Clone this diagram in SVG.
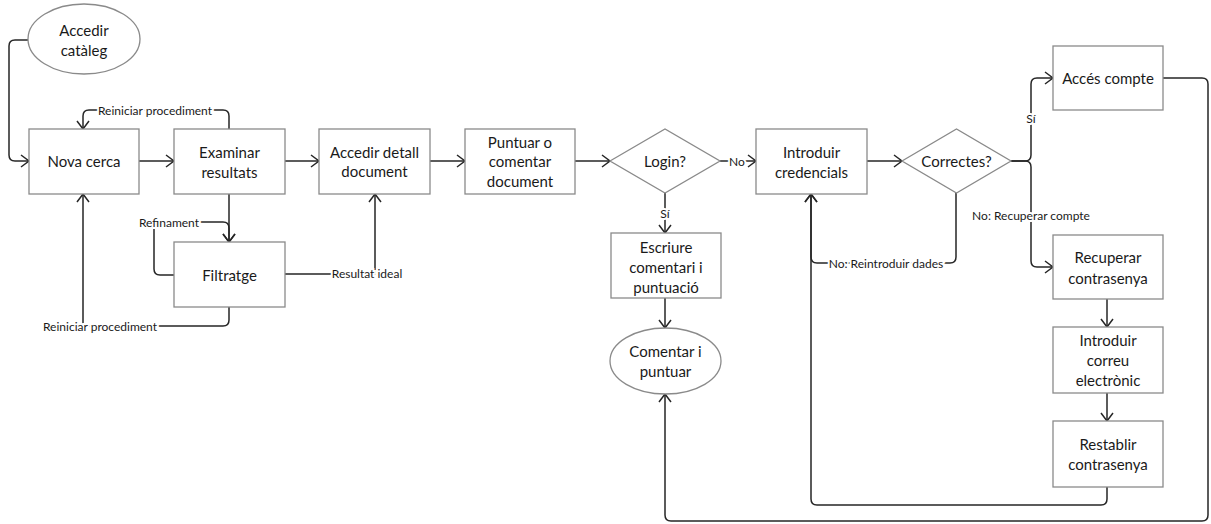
<svg xmlns="http://www.w3.org/2000/svg" width="1211" height="524" viewBox="0 0 1211 524">
<style>
.n{fill:#fff;stroke:#8a8a8a;stroke-width:1.3}
.t{font-family:Lato,"Open Sans",sans-serif;font-size:15px;fill:#1a1a1a;text-anchor:middle;dominant-baseline:central}
.c{fill:none;stroke:#262626;stroke-width:1.5}
.l{font-family:Lato,"Open Sans",sans-serif;font-size:12px;fill:#1a1a1a;text-anchor:middle;dominant-baseline:central;paint-order:stroke;stroke:#fff;stroke-width:4px}
</style>
<defs>
<marker id="a" markerUnits="userSpaceOnUse" markerWidth="12" markerHeight="14" refX="9" refY="7" orient="auto">
<path d="M1,1 L9,7 L1,13" fill="none" stroke="#262626" stroke-width="1.5"/>
</marker>
</defs>
<rect width="1211" height="524" fill="#fff"/>
<g id="connectors">
<path class="c" d="M28,40 H15 Q9,40 9,46 V155 Q9,161 15,161 H29" marker-end="url(#a)"/>
<path class="c" d="M139,161 H174" marker-end="url(#a)"/>
<path class="c" d="M285,161 H319" marker-end="url(#a)"/>
<path class="c" d="M430,161 H465" marker-end="url(#a)"/>
<path class="c" d="M575,161 H610" marker-end="url(#a)"/>
<path class="c" d="M720,161 H756" marker-end="url(#a)"/>
<path class="c" d="M867,161 H902" marker-end="url(#a)"/>
<path class="c" d="M1011,161 H1025 Q1031,161 1031,155 V84 Q1031,78 1037,78 H1053" marker-end="url(#a)"/>
<path class="c" d="M1011,161 H1025 Q1031,161 1031,167 V261 Q1031,267 1037,267 H1053" marker-end="url(#a)"/>
<path class="c" d="M1107,299 V327" marker-end="url(#a)"/>
<path class="c" d="M1107,393 V421" marker-end="url(#a)"/>
<path class="c" d="M1107,487 V499 Q1107,505 1101,505 H817 Q811,505 811,499 V194" marker-end="url(#a)"/>
<path class="c" d="M956,193 V257 Q956,263 950,263 H817 Q811,263 811,257 V194" marker-end="url(#a)"/>
<path class="c" d="M665,193 V233" marker-end="url(#a)"/>
<path class="c" d="M665,298 V328" marker-end="url(#a)"/>
<path class="c" d="M1163,78 H1202 Q1208,78 1208,84 V515 Q1208,521 1202,521 H671 Q665,521 665,515 V394" marker-end="url(#a)"/>
<path class="c" d="M229,194 V242" marker-end="url(#a)"/>
<path class="c" d="M174,275 H160 Q154,275 154,269 V222 H223 Q229,222 229,228 V242" marker-end="url(#a)"/>
<path class="c" d="M285,274 H375 V194" marker-end="url(#a)"/>
<path class="c" d="M229,307 V320 Q229,326 223,326 H83 V194" marker-end="url(#a)"/>
<path class="c" d="M229,129 V116 Q229,110 223,110 H89 Q83,110 83,116 V129" marker-end="url(#a)"/>
<text class="l" x="155" y="110">Reiniciar procediment</text>
<text class="l" x="169" y="222">Refinament</text>
<text class="l" x="367" y="273">Resultat ideal</text>
<text class="l" x="100" y="326">Reiniciar procediment</text>
<text class="l" x="737" y="161">No</text>
<text class="l" x="665" y="213">Sí</text>
<text class="l" x="1031" y="118">Sí</text>
<text class="l" x="1031" y="215">No: Recuperar compte</text>
<text class="l" x="886" y="263">No: Reintroduir dades</text>
</g>
<g id="accedir-cataleg"><ellipse class="n" cx="84" cy="39" rx="56" ry="35"/><text class="t" x="84" y="30">Accedir</text><text class="t" x="84" y="50">catàleg</text></g>
<g id="nova-cerca"><rect class="n" x="29" y="129" width="110" height="65"/><text class="t" x="84" y="161">Nova cerca</text></g>
<g id="examinar"><rect class="n" x="174" y="129" width="111" height="65"/><text class="t" x="229.5" y="152">Examinar</text><text class="t" x="229.5" y="172">resultats</text></g>
<g id="filtratge"><rect class="n" x="174" y="242" width="111" height="65"/><text class="t" x="229.5" y="275">Filtratge</text></g>
<g id="accedir-detall"><rect class="n" x="319" y="129" width="111" height="65"/><text class="t" x="374.5" y="152">Accedir detall</text><text class="t" x="374.5" y="171">document</text></g>
<g id="puntuar"><rect class="n" x="465" y="129" width="110" height="65"/><text class="t" x="520" y="142">Puntuar o</text><text class="t" x="520" y="161">comentar</text><text class="t" x="520" y="181">document</text></g>
<g id="login"><polygon class="n" points="610,161 665,129 720,161 665,193"/><text class="t" x="665" y="161">Login?</text></g>
<g id="escriure"><rect class="n" x="611" y="233" width="110" height="65"/><text class="t" x="666" y="247">Escriure</text><text class="t" x="666" y="267">comentari i</text><text class="t" x="666" y="287">puntuació</text></g>
<g id="comentar"><ellipse class="n" cx="665.5" cy="361" rx="55.5" ry="33"/><text class="t" x="665.5" y="351">Comentar i</text><text class="t" x="665.5" y="371">puntuar</text></g>
<g id="introduir-credencials"><rect class="n" x="756" y="129" width="111" height="65"/><text class="t" x="811.5" y="152">Introduir</text><text class="t" x="811.5" y="172">credencials</text></g>
<g id="correctes"><polygon class="n" points="902,161 956.5,129 1011,161 956.5,193"/><text class="t" x="956.5" y="161">Correctes?</text></g>
<g id="acces-compte"><rect class="n" x="1053" y="46" width="110" height="64"/><text class="t" x="1108" y="78">Accés compte</text></g>
<g id="recuperar"><rect class="n" x="1053" y="235" width="110" height="64"/><text class="t" x="1108" y="257">Recuperar</text><text class="t" x="1108" y="278">contrasenya</text></g>
<g id="introduir-correu"><rect class="n" x="1053" y="327" width="110" height="66"/><text class="t" x="1108" y="340">Introduir</text><text class="t" x="1108" y="360">correu</text><text class="t" x="1108" y="380">electrònic</text></g>
<g id="restablir"><rect class="n" x="1053" y="421" width="110" height="66"/><text class="t" x="1108" y="444">Restablir</text><text class="t" x="1108" y="464">contrasenya</text></g>
</svg>
